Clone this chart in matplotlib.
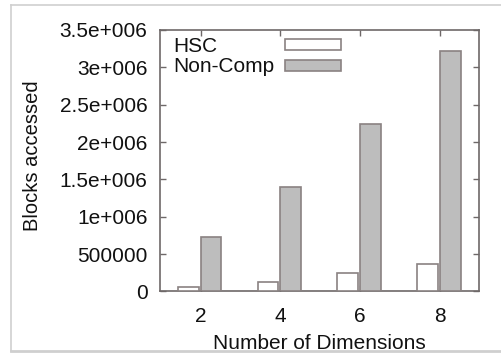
import numpy as np
import matplotlib.pyplot as plt
from matplotlib.patches import Rectangle
from matplotlib.lines import Line2D

plt.rcParams['font.family'] = ['Liberation Sans', 'DejaVu Sans']

dims = [2, 4, 6, 8]
hsc = [60000, 130000, 243000, 370000]
non_comp = [723000, 1393000, 2243000, 3222000]
yticks = [0, 500000, 1000000, 1500000, 2000000, 2500000, 3000000, 3500000]
ytick_labels = ['0', '500000', '1e+006', '1.5e+006', '2e+006', '2.5e+006', '3e+006', '3.5e+006']

edge = '#8a8282'
spine = '#6e6868'
gray = '#bdbdbd'
txt = '#111111'

fig = plt.figure(figsize=(5.02, 3.54), dpi=100)
ax = fig.add_axes([0.3187, 0.1766, 0.6355, 0.7387])

x = np.array(dims, dtype=float)
w = 0.52
ax.bar(x - 0.31, hsc, width=w, color='white', edgecolor=edge, linewidth=1.2, zorder=3)
ax.bar(x + 0.26, non_comp, width=w, color=gray, edgecolor=edge, linewidth=1.2, zorder=3)

ax.set_xlim(0.98, 8.98)
ax.set_ylim(0, 3500000)
ax.set_xticks(dims)
ax.set_xticklabels([str(d) for d in dims])
ax.set_yticks(yticks)
ax.set_yticklabels(ytick_labels)

ax.tick_params(direction='in', length=4, width=1, color=spine, labelsize=15,
               top=True, right=True, labelcolor=txt)
ax.tick_params(axis='y', pad=9)
ax.tick_params(axis='x', pad=11)
for s in ax.spines.values():
    s.set_color(spine)
    s.set_linewidth(1.2)

ax.set_xlabel('Number of Dimensions', fontsize=15, color=txt, labelpad=6)
ax.set_ylabel('Blocks accessed', fontsize=14.5, color=txt)
ax.yaxis.set_label_coords(-0.37, 0.52)

# key, drawn by hand so the labels are left aligned with boxes to the right
ax.text(0.041, 0.916, 'HSC', transform=ax.transAxes, fontsize=15, va='baseline', color=txt)
ax.text(0.041, 0.839, 'Non-Comp', transform=ax.transAxes, fontsize=15, va='baseline', color=txt)
ax.add_patch(Rectangle((0.392, 0.9235), 0.1755, 0.041, transform=ax.transAxes,
                       facecolor='white', edgecolor=edge, linewidth=1.2, zorder=4))
ax.add_patch(Rectangle((0.392, 0.8444), 0.1755, 0.041, transform=ax.transAxes,
                       facecolor=gray, edgecolor=edge, linewidth=1.2, zorder=4))

# faint outer frame of the scanned figure
fc = '#cfcfcf'
fig.add_artist(Line2D([11 / 502, 1], [1 - 5 / 354, 1 - 5 / 354], color=fc, lw=1.2))
fig.add_artist(Line2D([11 / 502, 11 / 502], [1 - 5 / 354, 1 - 351 / 354], color=fc, lw=1.2))
fig.add_artist(Line2D([11 / 502, 1], [1 - 351 / 354, 1 - 351 / 354], color=fc, lw=2))

fig.savefig('out.png', dpi=100)
